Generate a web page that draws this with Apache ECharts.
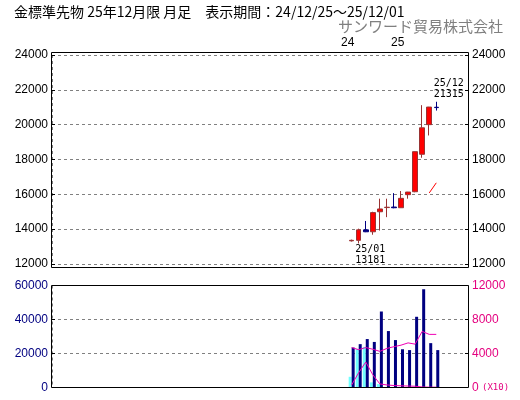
<!DOCTYPE html>
<html><head><meta charset="utf-8">
<script src="https://cdn.jsdelivr.net/npm/echarts@6/dist/echarts.min.js"></script>
<style>html,body{margin:0;padding:0;background:#fff}#c{width:520px;height:400px}</style>
</head><body><div id="c"></div>
<script>
// ---- data (monthly, 金標準先物 25年12月限) ----
const months = ['24/12','25/01','25/02','25/03','25/04','25/05','25/06','25/07','25/08','25/09','25/10','25/11','25/12'];
const openP  = [13330, 13360, 13960, 13850, 15000, 15240, 15270, 15230, 15980, 16150, 18300, 20000, 21000];
const closeP = [13360, 13960, 13850, 14950, 15160, 15260, 15230, 15770, 16130, 18450, 19820, 21010, 20980];
const lowP   = [13290, 13181, 13830, 13680, 13920, 14690, 15200, 15220, 15750, 16120, 18100, 19380, 20810];
const highP  = [13400, 14030, 14470, 15000, 15750, 15750, 16070, 16190, 16140, 18460, 21120, 21020, 21315];
const ma12   = [null, null, null, null, null, null, null, null, null, null, null, 16080, 16660];
const volTotal    = [23500, 25500, 28500, 26800, 44700, 33200, 27900, 22500, 22000, 41600, 57800, 26100, 22000];
const volContract = [6300, 22600, 23900, 3000, 2000, 0, 0, 0, 0, 0, 0, 0, 0];
const oiTotal     = [4700, 4450, 4700, 4500, 4250, 4600, 4800, 4980, 5250, 5100, 6600, 6250, 6250];
const oiContract  = [300, 1750, 3000, 1500, 420, 300, 230, 200, 170, 150, 60, 40, 40];
const priceTicks = {min: 12000, max: 24000, interval: 2000};
const volTicks   = {min: 0, max: 60000, interval: 20000};
const oiTicks    = {min: 0, max: 12000, interval: 4000};
const leadSlots = 42, trailSlots = 4;

// ---- build ----
const cats = [];
for (let i = 0; i < leadSlots; i++) cats.push('_' + i);
months.forEach(m => cats.push(m));
for (let i = 0; i < trailSlots; i++) cats.push('__' + i);
const pad = (arr, f) => {
  const out = [];
  for (let i = 0; i < leadSlots; i++) out.push('-');
  arr.forEach((v, j) => out.push(f ? f(v, j) : (v === null ? '-' : v)));
  for (let i = 0; i < trailSlots; i++) out.push('-');
  return out;
};
const candle = pad(months, (m, j) => [openP[j], closeP[j], lowP[j], highP[j]]);
const boundaryIdx = leadSlots + months.findIndex(m => m.startsWith('25/'));

let lowIdx = 0, highIdx = 0;
lowP.forEach((v, j) => { if (v < lowP[lowIdx]) lowIdx = j; });
highP.forEach((v, j) => { if (v > highP[highIdx]) highIdx = j; });

const MAG = '#f000b4', MAGL = '#e4007f', NAVY = '#000080';
const lblFont = 'Liberation Sans';
const dashStyle = () => ({color: '#808080', type: [3, 3], dashOffset: 0, width: 1, opacity: 1});
const dashed = () => ({show: true, lineStyle: dashStyle()});
const tick = () => ({show: true, inside: true, length: 3, lineStyle: {color: '#000'}});
const plain = v => String(v);

const chart = echarts.init(document.getElementById('c'), null, {renderer: 'canvas'});
chart.setOption({
  animation: false,
  backgroundColor: '#fff',
  title: [
    {text: '金標準先物 25年12月限 月足　表示期間：24/12/25～25/12/01', left: 14, top: 5, padding: 0,
     textStyle: {fontSize: 14, fontWeight: 'normal', color: '#000', fontFamily: 'Noto Sans CJK JP'}},
    {text: 'サンワード貿易株式会社', right: 17, top: 19, padding: 0,
     textStyle: {fontSize: 15, fontWeight: 'normal', color: '#808080', fontFamily: 'Noto Sans CJK JP'}},
    {text: '24', left: 341, top: 37, padding: 0, textStyle: {fontSize: 12, fontWeight: 'normal', color: '#000', fontFamily: lblFont}},
    {text: '25', left: 391, top: 37, padding: 0, textStyle: {fontSize: 12, fontWeight: 'normal', color: '#000', fontFamily: lblFont}}
  ],
  grid: [
    {left: 52, width: 416, top: 55, height: 209, outerBoundsMode: 'none', containLabel: false},
    {left: 52, width: 416, top: 285.5, height: 102, outerBoundsMode: 'none', containLabel: false}
  ],
  xAxis: [0, 1].map(g => ({
    type: 'category', gridIndex: g, data: cats, boundaryGap: true,
    axisLine: {show: false}, axisTick: {show: false}, axisLabel: {show: false},
    splitLine: {show: true, interval: (i) => i === boundaryIdx, lineStyle: dashStyle()}
  })),
  yAxis: [
    {type: 'value', gridIndex: 0, position: 'left', min: priceTicks.min, max: priceTicks.max, interval: priceTicks.interval,
     axisLine: {show: false}, axisTick: tick(), splitLine: dashed(),
     axisLabel: {margin: 4, color: '#000', fontSize: 12, fontFamily: lblFont, formatter: plain}},
    {type: 'value', gridIndex: 0, position: 'right', min: priceTicks.min, max: priceTicks.max, interval: priceTicks.interval,
     axisLine: {show: false}, axisTick: tick(), splitLine: {show: false},
     axisLabel: {margin: 4, color: '#000', fontSize: 12, fontFamily: lblFont, formatter: plain}},
    {type: 'value', gridIndex: 1, position: 'left', min: volTicks.min, max: volTicks.max, interval: volTicks.interval,
     axisLine: {show: false}, axisTick: tick(), splitLine: dashed(),
     axisLabel: {margin: 4, color: NAVY, fontSize: 12, fontFamily: lblFont, formatter: plain}},
    {type: 'value', gridIndex: 1, position: 'right', min: oiTicks.min, max: oiTicks.max, interval: oiTicks.interval,
     axisLine: {show: false}, axisTick: tick(), splitLine: {show: false},
     axisLabel: {margin: 4, color: MAGL, fontSize: 12, fontFamily: lblFont,
       formatter: v => v === 0 ? '0 {s|(X10)}' : String(v),
       rich: {s: {fontSize: 9, fontFamily: 'DejaVu Sans Mono', color: MAGL}}}}
  ],
  series: [
    {type: 'candlestick', xAxisIndex: 0, yAxisIndex: 0, data: candle, barWidth: 5, silent: true,
     itemStyle: {color: '#ff0000', color0: NAVY, borderColor: '#993333', borderColor0: NAVY, borderWidth: 1},
     markPoint: {
       silent: true, symbol: 'rect', symbolSize: 1, itemStyle: {color: 'rgba(0,0,0,0)'},
       label: {show: true, color: '#000', fontSize: 10, fontFamily: 'DejaVu Sans Mono', lineHeight: 11, align: 'left', verticalAlign: 'top'},
       data: [
         {coord: [leadSlots + lowIdx, lowP[lowIdx]], label: {formatter: months[lowIdx] + '\n' + lowP[lowIdx], position: [-3, 1]}},
         {coord: [leadSlots + highIdx, highP[highIdx]], label: {formatter: months[highIdx] + '\n' + highP[highIdx], position: [-2, -23]}}
       ]
     }},
    {type: 'line', xAxisIndex: 0, yAxisIndex: 0, data: pad(ma12), symbol: 'none', silent: true,
     lineStyle: {color: '#ff0000', width: 1}},
    {type: 'bar', xAxisIndex: 1, yAxisIndex: 2, data: pad(volContract), barWidth: 3, barGap: '0%', silent: true,
     itemStyle: {color: '#70ffff'}},
    {type: 'bar', xAxisIndex: 1, yAxisIndex: 2, data: pad(volTotal), barWidth: 3, barGap: '0%', silent: true,
     itemStyle: {color: NAVY}},
    {type: 'line', xAxisIndex: 1, yAxisIndex: 3, data: pad(oiTotal), symbol: 'none', silent: true,
     lineStyle: {color: MAG, width: 1}},
    {type: 'line', xAxisIndex: 1, yAxisIndex: 3, data: pad(oiContract), symbol: 'none', silent: true,
     lineStyle: {color: MAG, width: 1}}
  ],
  graphic: [
    {type: 'rect', silent: true, z: 100, shape: {x: 51.5, y: 52.5, width: 417, height: 215},
     style: {fill: 'rgba(0,0,0,0)', stroke: '#000', lineWidth: 1}},
    {type: 'rect', silent: true, z: 100, shape: {x: 51.5, y: 285.5, width: 417, height: 102},
     style: {fill: 'rgba(0,0,0,0)', stroke: '#000', lineWidth: 1}}
  ]
});
</script>
</body></html>
